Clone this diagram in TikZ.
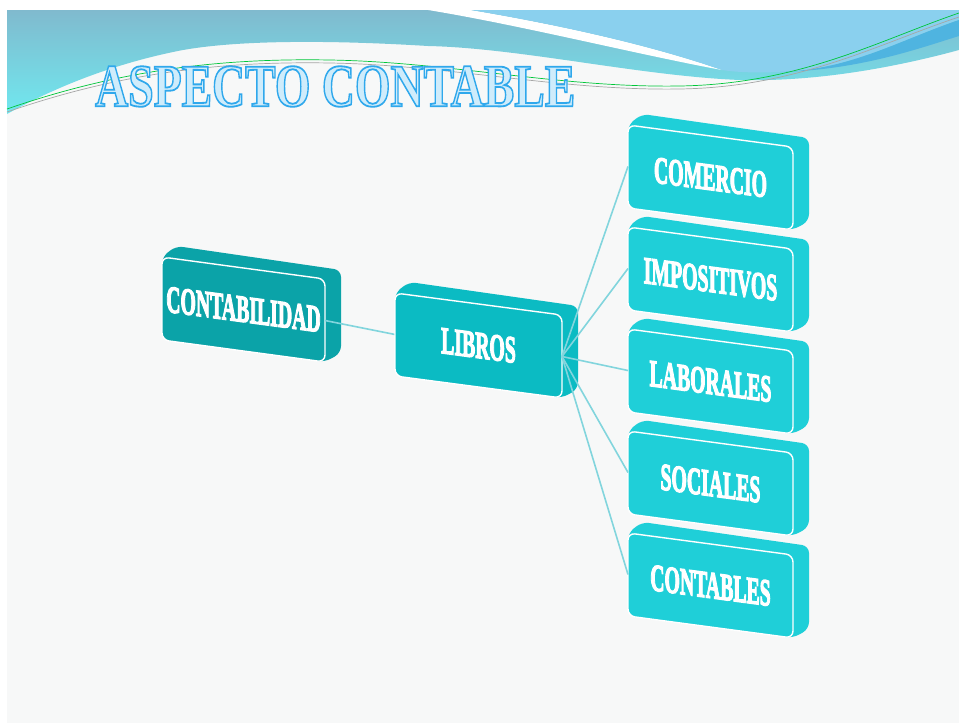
\documentclass[tikz,border=0pt]{standalone}
\usepackage{fontspec}
\usepackage{graphicx}
\setmainfont{Liberation Serif}
\newfontfamily\boxfont[FakeBold=4]{Liberation Serif Bold}
\newfontfamily\titlefont[FakeBold=3]{Liberation Serif Bold}
\definecolor{cA}{HTML}{0BA3A8}
\definecolor{cB}{HTML}{0BBBC3}
\definecolor{cC}{HTML}{1FCFD8}
\definecolor{conn}{HTML}{82D5DD}
\definecolor{tFill}{HTML}{CFECFB}
\definecolor{slidebg}{HTML}{F7F8F8}
\definecolor{tealTop}{HTML}{80BACE}
\definecolor{tealBot}{HTML}{70E8EF}
\definecolor{skyblue}{HTML}{8AD0EE}
\definecolor{deepblue}{HTML}{4FB4E0}
\newcommand\cond[1]{\scalebox{0.52}[1]{#1}}
\newcommand\slabbox[6]{%
  \fill[#5, rounded corners=7] (#2,#3) -- (#2+14,#3-11) -- (#2+#4+16,#3+13) -- (#2+#4+16,#3+96) -- (#2+#4,#3+105) -- (#2,#3+83) -- cycle;
  \filldraw[fill=#5, draw=white, line width=1.4, rounded corners=7] (#2,#3) -- (#2+#4,#3+22) -- (#2+#4,#3+105) -- (#2,#3+83) -- cycle;
  \node[boxtext] (#1) at (#2+#4/2, #3+52.5) {\cond{#6}};
  \coordinate (#1-in) at (#2, #3+41.5);
  \coordinate (#1-out) at (#2+#4, #3+63.5);
}
\tikzset{
  boxtext/.style={text=white, font=\boxfont\fontsize{38}{38}\selectfont, inner sep=0pt, yslant=-0.133},
  conn/.style={draw=conn, line width=1.6pt},
  ttl/.style={anchor=south west, inner sep=0pt}
}
\begin{document}
\begin{tikzpicture}[x=1pt, y=-1pt]
\useasboundingbox (0,0) rectangle (959,723);
\fill[white] (0,0) rectangle (959,723);
\fill[slidebg] (7,10) rectangle (959,723);
% banner
\shade[top color=tealTop, bottom color=tealBot] (7,10) -- (959,10) -- (959,50)
  .. controls (900,66) and (820,82) .. (740,80)
  .. controls (640,76) and (520,48) .. (428,46)
  .. controls (330,40) and (240,40) .. (183,50)
  .. controls (110,64) and (50,90) .. (7,114) -- cycle;
\fill[white] (428,10) -- (471,10) .. controls (560,25) and (650,45) .. (722,70)
  .. controls (640,55) and (520,25) .. (428,10) -- cycle;
\fill[skyblue] (471,10) -- (959,10) -- (959,20) .. controls (900,40) and (850,70) .. (780,72)
  .. controls (750,73) and (735,72) .. (722,70) .. controls (650,45) and (560,25) .. (471,10) -- cycle;
\fill[deepblue] (959,20) .. controls (900,40) and (850,70) .. (780,72)
  .. controls (860,70) and (920,48) .. (959,36) -- cycle;
\draw[green!55!teal, line width=0.7pt] (7,109) .. controls (120,70) and (220,58) .. (330,60)
  .. controls (450,62) and (560,88) .. (680,86) .. controls (800,84) and (880,40) .. (959,13);
\draw[gray!70, line width=0.7pt] (7,112) .. controls (120,73) and (220,61) .. (330,63)
  .. controls (450,65) and (560,91) .. (680,89) .. controls (800,87) and (880,43) .. (959,17);
% title
\node[ttl] (title) at (95,107) {\resizebox{480pt}{40pt}{\color{tFill}\special{pdf:literal direct 0.184 0.659 0.925 RG}\titlefont ASPECTO CONTABLE}};
% boxes
\slabbox{contab}{162}{257}{163}{cA}{CONTABILIDAD}
\draw[conn] (contab-out) -- (395,334.5) coordinate (tmp);
\slabbox{libros}{395}{293}{167}{cB}{LIBROS}
\slabbox{comercio}{628}{125}{165}{cC}{COMERCIO}
\slabbox{impos}{628}{227}{165}{cC}{IMPOSITIVOS}
\slabbox{labor}{628}{329}{165}{cC}{LABORALES}
\slabbox{social}{628}{431}{165}{cC}{SOCIALES}
\slabbox{contables}{628}{533}{165}{cC}{CONTABLES}
\foreach \t in {comercio,impos,labor,social,contables}{
  \draw[conn] (libros-out) -- (\t-in);
}
\end{tikzpicture}
\end{document}
